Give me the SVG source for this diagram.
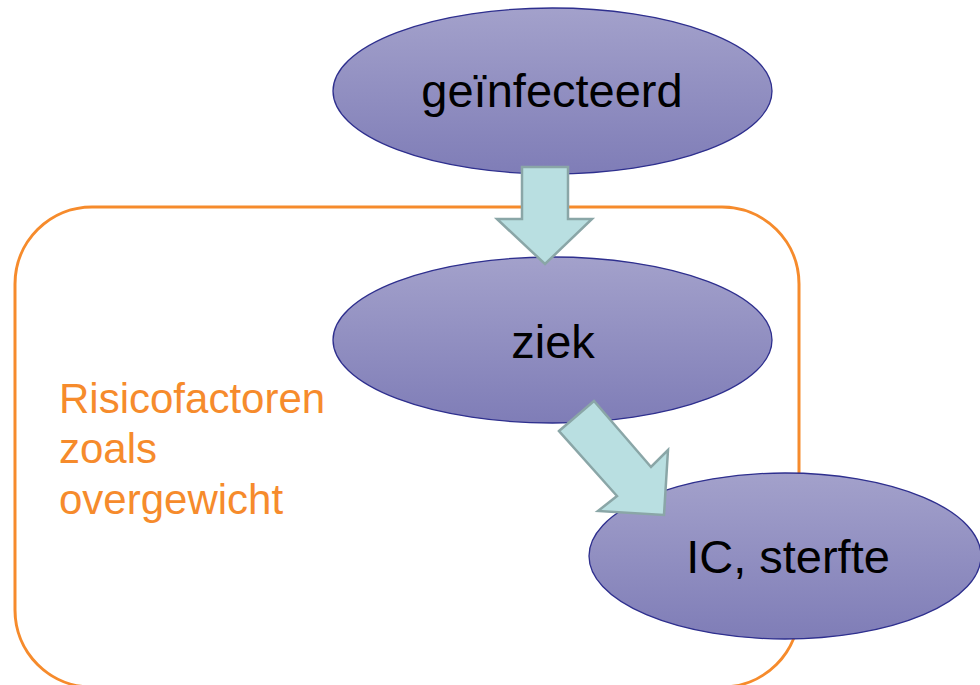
<svg xmlns="http://www.w3.org/2000/svg" width="980" height="685" viewBox="0 0 980 685">
  <defs>
    <linearGradient id="ellGrad" x1="0" y1="0" x2="0" y2="1">
      <stop offset="0" stop-color="#a3a1cb"/>
      <stop offset="1" stop-color="#7f7db7"/>
    </linearGradient>
  </defs>
  <style>
    .node ellipse { fill: url(#ellGrad); stroke: #2e2f8e; stroke-width: 1.3; }
    .node text { font-family: "Liberation Sans", Arial, sans-serif; font-size: 47px; fill: #000; text-anchor: middle; }
    .arrow { fill: #b9dfe1; stroke: #8aa6a7; stroke-width: 2.5; stroke-linejoin: miter; }
    .risk { fill: none; stroke: #f68b2c; stroke-width: 3; }
    .risktext { font-family: "Liberation Sans", Arial, sans-serif; font-size: 42px; fill: #f68b2c; }
  </style>

  <g id="risk-group">
    <rect class="risk" x="15" y="207" width="784" height="480" rx="77" ry="77"/>
    <text class="risktext" x="59" y="413">Risicofactoren</text>
    <text class="risktext" x="59" y="463.4">zoals</text>
    <text class="risktext" x="59" y="513.8">overgewicht</text>
  </g>

  <g id="node-geinfecteerd" class="node">
    <ellipse cx="552.5" cy="91" rx="219.5" ry="83"/>
    <text x="552" y="107">geïnfecteerd</text>
  </g>

  <g id="node-ziek" class="node">
    <ellipse cx="552.5" cy="340" rx="219.5" ry="83"/>
    <text x="553" y="358">ziek</text>
  </g>

  <g id="node-ic-sterfte" class="node">
    <ellipse cx="785" cy="556" rx="196" ry="83"/>
    <text x="788" y="573">IC, sterfte</text>
  </g>

  <g id="connectors">
    <polygon class="arrow" points="522,167 568,167 568,219 592,219 545,264 497,219 522,219"/>
    <polygon class="arrow" points="559,431 594,401 651,467 668,450 664,515 598,511 617,496"/>
  </g>
</svg>
